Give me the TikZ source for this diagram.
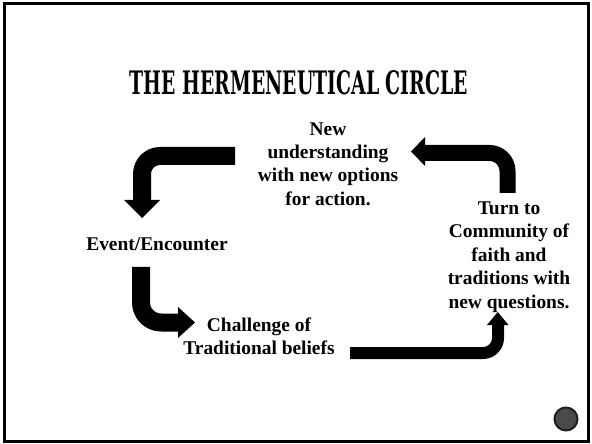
\documentclass[tikz,border=0pt]{standalone}
\usepackage{fontspec}
\usepackage{graphicx}
\setmainfont{Liberation Serif}
\newfontfamily\titlefont{DejaVu Serif Condensed}
\definecolor{dotfill}{HTML}{4A4A4A}
\definecolor{dotrim}{HTML}{1E1E1E}
\tikzset{
  lbl/.style={font=\bfseries\fontsize{19.5}{23.5}\selectfont, align=center, inner sep=0pt, text=black},
  shaft/.style={draw=black, line cap=butt, line join=round},
  headfill/.style={fill=black},
}
\begin{document}
\begin{tikzpicture}[x=1bp,y=-1bp]
\useasboundingbox (0,0) rectangle (592,444);
\fill[white] (0,0) rectangle (592,444);
% frame
\draw[line width=3bp, black] (4.5,3.5) rectangle (588.5,441.5);
% title
\node[inner sep=0pt, anchor=center] (title) at (299,82.5)
  {\resizebox{338bp}{24bp}{\titlefont\bfseries THE HERMENEUTICAL CIRCLE}};
% labels
\node[lbl] (newu) at (328,164) {New\\understanding\\with new options\\for action.};
\node[lbl] (event) at (157,244) {Event/Encounter};
\node[lbl] (chal) at (259,336) {Challenge of\\Traditional beliefs};
\node[lbl] (turn) at (509,257) {Turn to\\Community of\\faith and\\traditions with\\new questions.};
% arrow 1: top-left, pointing down
\coordinate (a1s) at (235,156);
\coordinate (a1c) at (142,156);
\coordinate (a1e) at (142,201);
\coordinate (a1l) at (124,200);
\coordinate (a1r) at (160,200);
\coordinate (a1t) at (142,218);
\draw[shaft, line width=18bp, rounded corners=18bp] (a1s) -- (a1c) -- (a1e);
\fill[headfill] (a1l) -- (a1r) -- (a1t) -- cycle;
% arrow 2: left, pointing right
\coordinate (a2s) at (141,267);
\coordinate (a2c) at (141,322.5);
\coordinate (a2e) at (179,322.5);
\coordinate (a2l) at (178,307);
\coordinate (a2r) at (178,338);
\coordinate (a2t) at (195,322.5);
\draw[shaft, line width=18bp, rounded corners=20bp] (a2s) -- (a2c) -- (a2e);
\fill[headfill] (a2l) -- (a2r) -- (a2t) -- cycle;
% arrow 3: bottom, pointing up
\coordinate (a3s) at (350,353);
\coordinate (a3c) at (498,353);
\coordinate (a3e) at (498,324);
\coordinate (a3l) at (487,325);
\coordinate (a3r) at (508.5,325);
\coordinate (a3t) at (497.75,312);
\draw[shaft, line width=12bp, rounded corners=15bp] (a3s) -- (a3c) -- (a3e);
\fill[headfill] (a3l) -- (a3r) -- (a3t) -- cycle;
% arrow 4: right, pointing left
\coordinate (a4s) at (507.5,193);
\coordinate (a4c) at (507.5,153);
\coordinate (a4e) at (424,153);
\coordinate (a4l) at (425,137);
\coordinate (a4r) at (425,166);
\coordinate (a4t) at (411,151.5);
\draw[shaft, line width=16bp, rounded corners=18bp] (a4s) -- (a4c) -- (a4e);
\fill[headfill] (a4l) -- (a4r) -- (a4t) -- cycle;
% dot
\node[circle, minimum size=23bp, inner sep=0pt, fill=dotfill, draw=dotrim, line width=2bp] (dot) at (566,419) {};
\end{tikzpicture}
\end{document}
